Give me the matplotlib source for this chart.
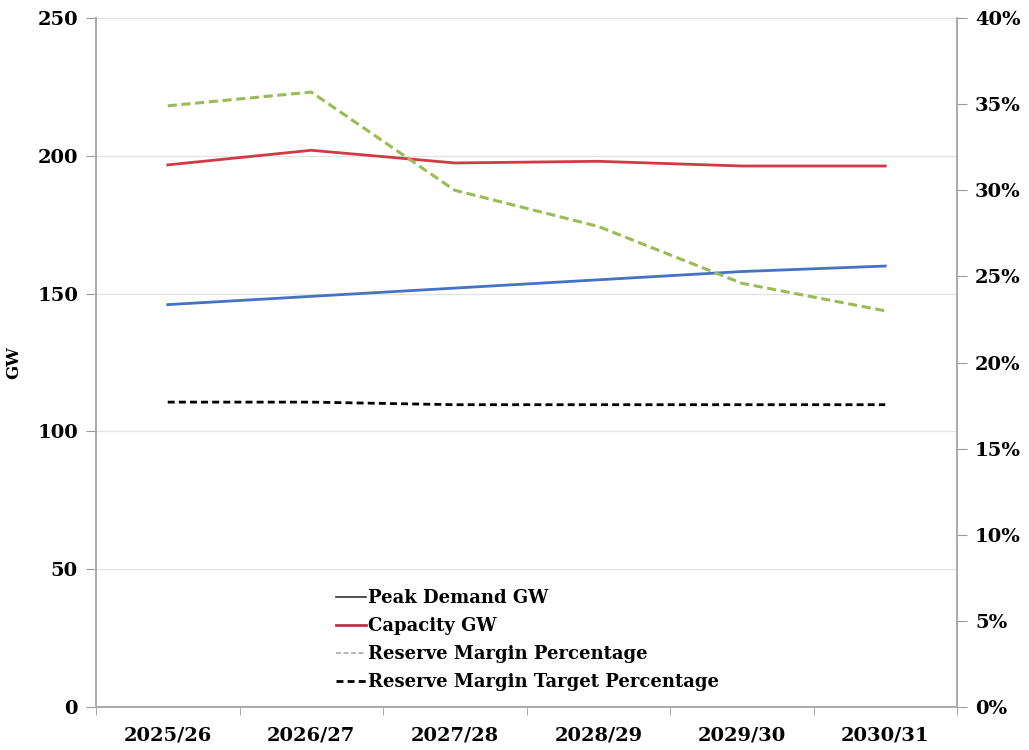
import matplotlib
matplotlib.use("Agg")
import matplotlib.pyplot as plt
from matplotlib.lines import Line2D
from matplotlib.ticker import FuncFormatter

years = ["2025/26", "2026/27", "2027/28", "2028/29", "2029/30", "2030/31"]
peak_demand_gw = [146, 149, 152, 155, 158, 160]
capacity_gw = [196.7, 202, 197.4, 198, 196.3, 196.3]
reserve_margin_pct = [34.9, 35.7, 30.0, 27.9, 24.6, 23.0]
reserve_target_pct = [17.7, 17.7, 17.55, 17.55, 17.55, 17.55]

legend_labels = ["Peak Demand GW", "Capacity GW", "Reserve Margin Percentage",
                 "Reserve Margin Target Percentage"]

plt.rcParams['font.family'] = ['DejaVu Serif']
plt.rcParams['font.weight'] = 'bold'

fig = plt.figure(figsize=(10.29, 7.5), dpi=100)
ax = fig.add_axes([96/1029, 1-707/750, (957-96)/1029, (707-18)/750])
ax2 = ax.twinx()

x = list(range(len(years)))
ax.plot(x, peak_demand_gw, color='#4472c4', lw=2)
ax.plot(x, capacity_gw, color='#d03a44', lw=2)
ax2.plot(x, reserve_margin_pct, color='#9bbb59', lw=2.2, ls=(0, (3, 1.5)))
ax2.plot(x, reserve_target_pct, color='black', lw=2, ls=(0, (2.5, 1.5)))

ax.set_xlim(-0.5, len(years) - 0.5)
ax.set_ylim(0, 250)
ax2.set_ylim(0, 40)
ax.set_yticks([0, 50, 100, 150, 200, 250])
ax2.set_yticks([0, 5, 10, 15, 20, 25, 30, 35, 40])
ax2.yaxis.set_major_formatter(FuncFormatter(lambda v, p: f"{int(v)}%"))

ax.set_xticks(x)
ax.set_xticklabels(years)
ax.set_xticks([i + 0.5 for i in range(-1, len(years))], minor=True)
ax.tick_params(axis='x', which='major', length=0, pad=14, labelsize=14)
ax.tick_params(axis='x', which='minor', length=6, color='#999999', direction='out')
ax.tick_params(axis='y', length=7, color='#999999', labelsize=14, pad=6)
ax2.tick_params(axis='y', length=7, color='#999999', labelsize=14, pad=6)

ax.grid(axis='y', color='#e4e4e4', lw=1)
ax.set_axisbelow(True)
for a in (ax, ax2):
    a.spines['top'].set_visible(False)
    for s in ('left', 'right', 'bottom'):
        a.spines[s].set_color('#aaaaaa')
        a.spines[s].set_linewidth(1.2)

ax.set_ylabel("GW", fontsize=12, fontweight='bold')
ax.yaxis.set_label_coords((22 - 96) / (957 - 96), 0.5)

handles = [
    Line2D([], [], color='#333333', lw=1.2),
    Line2D([], [], color='#c0304a', lw=2),
    Line2D([], [], color='#aaaaaa', lw=1.2, ls=(0, (3, 1.5))),
    Line2D([], [], color='black', lw=2, ls=(0, (2.5, 1.5))),
]
leg = ax.legend(handles, legend_labels, loc='lower left',
                bbox_to_anchor=((323 - 96) / (957 - 96), 0.005),
                frameon=False, fontsize=13, handlelength=1.7,
                handletextpad=0.1, labelspacing=0.55, borderpad=0.2)

fig.savefig("out.png", dpi=100)
